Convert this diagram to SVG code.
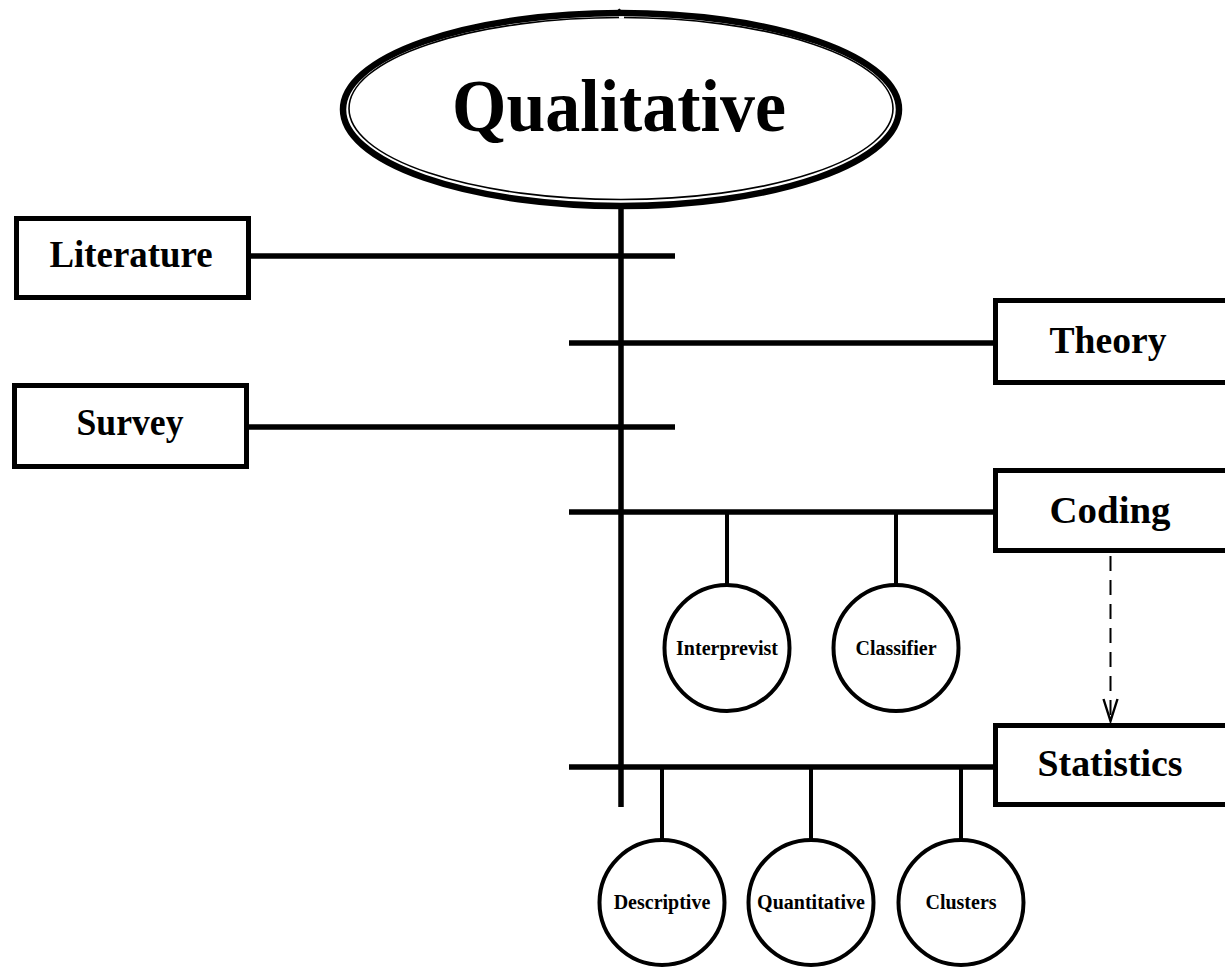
<svg xmlns="http://www.w3.org/2000/svg" width="1225" height="968" viewBox="0 0 1225 968">
  <style>
    .box { fill: #fff; stroke: #000; stroke-width: 5; }
    .circ { fill: #fff; stroke: #000; stroke-width: 4; }
    .bus { stroke: #000; stroke-width: 5.5; fill: none; }
    .stem { stroke: #000; stroke-width: 4; fill: none; }
    .big { font-family: "Liberation Serif", "DejaVu Serif", serif; font-weight: bold; font-size: 38px; text-anchor: middle; fill: #000; }
    .small { font-family: "Liberation Serif", "DejaVu Serif", serif; font-weight: bold; font-size: 20px; text-anchor: middle; fill: #000; }
    .title { font-family: "Liberation Serif", "DejaVu Serif", serif; font-weight: bold; font-size: 74px; text-anchor: middle; fill: #000; }
  </style>
  <rect width="1225" height="968" fill="#fff"/>

  <!-- connectors -->
  <g id="connectors">
    <line class="bus" x1="621" y1="204" x2="621" y2="807" stroke-width="10"/>
    <line class="bus" x1="249" y1="256" x2="675" y2="256"/>
    <line class="bus" x1="569" y1="343" x2="995" y2="343"/>
    <line class="bus" x1="249" y1="427" x2="675" y2="427"/>
    <line class="bus" x1="569" y1="512" x2="995" y2="512"/>
    <line class="bus" x1="569" y1="767" x2="995" y2="767"/>
    <line class="stem" x1="727" y1="512" x2="727" y2="585"/>
    <line class="stem" x1="896" y1="512" x2="896" y2="585"/>
    <line class="stem" x1="662" y1="767" x2="662" y2="840"/>
    <line class="stem" x1="811" y1="767" x2="811" y2="840"/>
    <line class="stem" x1="961" y1="767" x2="961" y2="840"/>
    <line x1="1110.5" y1="556" x2="1110.5" y2="719" stroke="#000" stroke-width="2" stroke-dasharray="15 9"/>
    <path d="M1103.5,699 L1110.5,721 L1117.5,699" fill="none" stroke="#000" stroke-width="2.4"/>
  </g>

  <!-- central topic: double outline -->
  <g id="qualitative">
    <ellipse cx="621" cy="109.5" rx="278" ry="96.5" fill="#fff" stroke="#000" stroke-width="6.5"/>
    <ellipse cx="621" cy="108.5" rx="272" ry="91" fill="none" stroke="#000" stroke-width="1.6"/>
    <path d="M619,17.5 L624,17.5" stroke="#fff" stroke-width="2.5"/>
    <path d="M612,14 Q617,13 620,9" fill="none" stroke="#000" stroke-width="2"/>
    <text class="title" x="619" y="131" textLength="334" lengthAdjust="spacingAndGlyphs">Qualitative</text>
  </g>

  <g id="literature">
    <rect class="box" x="16.5" y="218.5" width="232" height="79"/>
    <text class="big" x="131" y="267" textLength="163" lengthAdjust="spacingAndGlyphs">Literature</text>
  </g>
  <g id="theory">
    <rect class="box" x="995.5" y="300.5" width="240" height="82"/>
    <text class="big" x="1108" y="353" textLength="117" lengthAdjust="spacingAndGlyphs">Theory</text>
  </g>
  <g id="survey">
    <rect class="box" x="14.5" y="385.5" width="232" height="81"/>
    <text class="big" x="130" y="435" textLength="107" lengthAdjust="spacingAndGlyphs">Survey</text>
  </g>
  <g id="coding">
    <rect class="box" x="995.5" y="470.5" width="240" height="80"/>
    <text class="big" x="1110" y="523" textLength="121" lengthAdjust="spacingAndGlyphs">Coding</text>
  </g>
  <g id="statistics">
    <rect class="box" x="995.5" y="725.5" width="240" height="79"/>
    <text class="big" x="1110" y="776" textLength="145" lengthAdjust="spacingAndGlyphs">Statistics</text>
  </g>

  <g id="interprevist">
    <ellipse class="circ" cx="727" cy="648" rx="62.5" ry="63"/>
    <text class="small" x="727" y="655">Interprevist</text>
  </g>
  <g id="classifier">
    <ellipse class="circ" cx="896" cy="648" rx="62.5" ry="63"/>
    <text class="small" x="896" y="655">Classifier</text>
  </g>
  <g id="descriptive">
    <ellipse class="circ" cx="662" cy="902.5" rx="62.5" ry="62.5"/>
    <text class="small" x="662" y="909">Descriptive</text>
  </g>
  <g id="quantitative">
    <ellipse class="circ" cx="811" cy="902.5" rx="62.5" ry="62.5"/>
    <text class="small" x="811" y="909">Quantitative</text>
  </g>
  <g id="clusters">
    <ellipse class="circ" cx="961" cy="902.5" rx="62.5" ry="62.5"/>
    <text class="small" x="961" y="909">Clusters</text>
  </g>
</svg>
